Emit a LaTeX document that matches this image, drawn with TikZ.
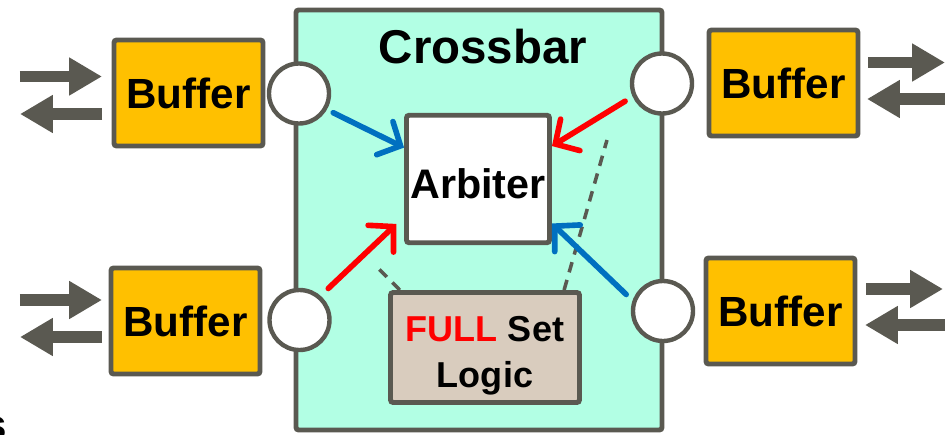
\documentclass[tikz,border=0pt]{standalone}
\usepackage{xcolor}
\usepackage{fontspec}
\setmainfont{Liberation Sans}
\usepackage{tikz}
\usetikzlibrary{positioning,arrows.meta}
\definecolor{FrameGray}{HTML}{5A5951}
\definecolor{BufferGold}{HTML}{FFC000}
\definecolor{CrossAqua}{HTML}{B2FFE4}
\definecolor{LogicTan}{HTML}{D9CCBE}
\definecolor{ReqBlue}{HTML}{0070C0}
\definecolor{ReqRed}{HTML}{FF0000}
\tikzset{
  xbarnode/.style={draw=FrameGray,fill=CrossAqua,line width=2.8pt,rounded corners=1.5pt,
    minimum width=7.32cm,minimum height=8.40cm,inner sep=0pt},
  bufnode/.style={draw=FrameGray,fill=BufferGold,line width=2.8pt,rounded corners=1.5pt,
    minimum width=2.98cm,minimum height=2.12cm,
    font=\fontsize{24}{28}\selectfont\bfseries,align=center,inner sep=2pt},
  arbnode/.style={draw=FrameGray,fill=white,line width=2.8pt,rounded corners=1.5pt,
    minimum width=2.86cm,minimum height=2.55cm,
    font=\fontsize{23.5}{28}\selectfont\bfseries,align=center,inner sep=2pt},
  logicnode/.style={draw=FrameGray,fill=LogicTan,line width=2.8pt,rounded corners=1.5pt,
    minimum width=3.78cm,minimum height=2.20cm,
    font=\fontsize{20.5}{26}\selectfont\bfseries,align=center,inner sep=2pt},
  portnode/.style={circle,draw=FrameGray,fill=white,line width=2.5pt,
    minimum size=1.20cm,inner sep=0pt},
  titlenode/.style={font=\fontsize{27}{32}\selectfont\bfseries,inner sep=0pt},
  linkB/.style={line width=3.2pt,draw=ReqBlue,line cap=round,
    -{Straight Barb[length=10pt,width=21pt,line cap=round]}},
  linkR/.style={line width=3.2pt,draw=ReqRed,line cap=round,
    -{Straight Barb[length=10pt,width=21pt,line cap=round]}},
  fullwire/.style={line width=2pt,draw=FrameGray,dash pattern=on 6pt off 4.5pt},
  ioarrow/.style={line width=6.8pt,draw=FrameGray,-{Triangle[length=18.7pt,width=20.4pt]}},
}

\begin{document}
\begin{tikzpicture}
  \useasboundingbox (0,0) rectangle (18.9,-8.68);
  % crossbar and its parts
  \node[xbarnode] (xbar) at (9.58,-4.40) {};
  \node[titlenode] (xtitle) at (9.66,-0.94) {Crossbar};
  \node[arbnode] (arb) at (9.56,-3.58) {\rule{0pt}{22pt}Arbiter};
  \node[logicnode] (logic) at (9.70,-6.95) {\rule{0pt}{24pt}\textcolor{ReqRed}{FULL} Set\\Logic};
  \coordinate (wireL) at (7.54,-5.34);
  \coordinate (wireR) at (12.14,-2.80);
  \draw[fullwire] (logic.146) -- (wireL);
  \draw[fullwire] (logic.36) -- (wireR);
  % ports on the crossbar
  \node[portnode] (pTL) at (5.98,-1.87) {};
  \node[portnode] (pBL) at (5.99,-6.40) {};
  \node[portnode] (pTR) at (13.24,-1.67) {};
  \node[portnode] (pBR) at (13.26,-6.22) {};
  % buffers
  \node[bufnode] (bufTL) at (3.77,-1.86) {Buffer};
  \node[bufnode] (bufBL) at (3.71,-6.42) {Buffer};
  \node[bufnode] (bufTR) at (15.67,-1.66) {Buffer};
  \node[bufnode] (bufBR) at (15.61,-6.22) {Buffer};
  % requests to the arbiter
  \draw[linkB,shorten <=4pt] (pTL.-30) -- (arb.157);
  \draw[linkR,shorten <=5pt] (pTR.204) -- (arb.24);
  \draw[linkR,shorten <=6pt,shorten >=6pt] (pBL.49) -- (arb.207);
  \draw[linkB,shorten <=5pt] (pBR.161) -- (arb.-31);
  % in and out links
  \coordinate (ioTLa) at (0.40,-1.53); \coordinate (ioTLb) at (2.04,-1.53);
  \coordinate (ioTLc) at (2.04,-2.28); \coordinate (ioTLd) at (0.40,-2.28);
  \coordinate (ioBLa) at (0.40,-6.00); \coordinate (ioBLb) at (2.04,-6.00);
  \coordinate (ioBLc) at (2.04,-6.74); \coordinate (ioBLd) at (0.40,-6.74);
  \coordinate (ioTRa) at (17.36,-1.25); \coordinate (ioTRb) at (18.90,-1.25);
  \coordinate (ioTRc) at (19.20,-1.98); \coordinate (ioTRd) at (17.34,-1.98);
  \coordinate (ioBRa) at (17.32,-5.78); \coordinate (ioBRb) at (18.86,-5.78);
  \coordinate (ioBRc) at (19.20,-6.50); \coordinate (ioBRd) at (17.30,-6.50);
  \draw[ioarrow] (ioTLa) -- (ioTLb);
  \draw[ioarrow] (ioTLc) -- (ioTLd);
  \draw[ioarrow] (ioBLa) -- (ioBLb);
  \draw[ioarrow] (ioBLc) -- (ioBLd);
  \draw[ioarrow] (ioTRa) -- (ioTRb);
  \draw[ioarrow] (ioTRc) -- (ioTRd);
  \draw[ioarrow] (ioBRa) -- (ioBRb);
  \draw[ioarrow] (ioBRc) -- (ioBRd);
  % cut-off text at the corner
  \node[anchor=base east,inner sep=0pt,font=\fontsize{24}{28}\selectfont\bfseries] (cut) at (0.14,-8.78) {s};
\end{tikzpicture}
\end{document}
